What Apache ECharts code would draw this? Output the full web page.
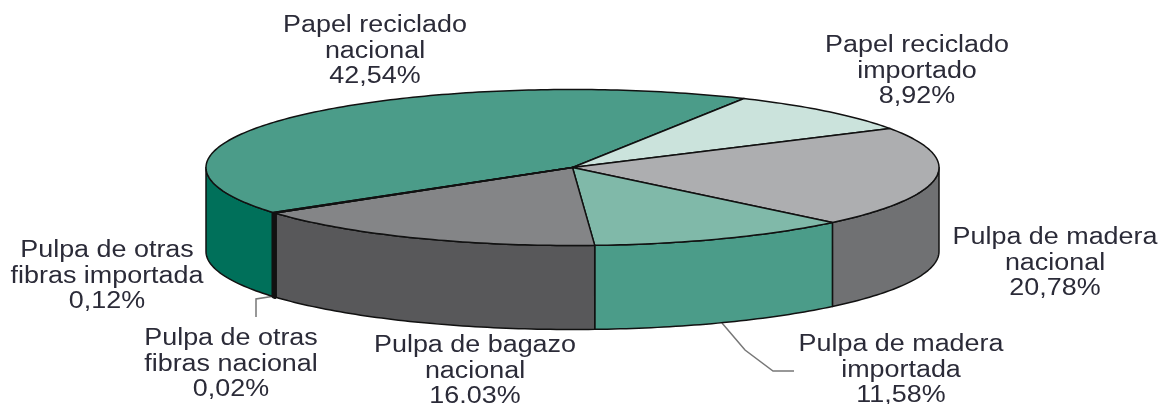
<!DOCTYPE html>
<html><head><meta charset="utf-8">
<style>html,body{margin:0;padding:0;background:#fff}#c{width:1161px;height:404px}</style>
<script src="https://cdn.jsdelivr.net/npm/echarts@6/dist/echarts.min.js"></script>
</head><body><div id="c"></div>
<script>
const names = [
  ['Papel reciclado', 'nacional'],
  ['Papel reciclado', 'importado'],
  ['Pulpa de madera', 'nacional'],
  ['Pulpa de madera', 'importada'],
  ['Pulpa de bagazo', 'nacional'],
  ['Pulpa de otras', 'fibras nacional'],
  ['Pulpa de otras', 'fibras importada']
];
const values = [42.54, 8.92, 20.78, 11.58, 16.03, 0.02, 0.12];
const valueLabels = ['42,54%', '8,92%', '20,78%', '11,58%', '16.03%', '0,02%', '0,12%'];
const topColors = ['#4b9c89', '#cbe3dc', '#adaeb0', '#80b9a9', '#848587', '#000000', '#000000'];
const sideColors = ['#00705a', '#cbe3dc', '#707173', '#4b9c89', '#58585a', '#000000', '#000000'];
const labelAnchors = [[375, 25], [917, 45], [1055, 237], [901, 344], [475, 345], [231, 338], [107, 250]];

const endOfFirstAngle = 27.9, CX = 572.5, CY = 167.5, RX = 366.5, RY = 78, DEPTH = 84;
const total = values.reduce((a, b) => a + b, 0);
// the first slice ends at endOfFirstAngle; all others follow it clockwise
const starts = []; let run = endOfFirstAngle - values[0] / total * 360 + 360;
values.forEach(v => { starts.push(run >= 360 ? run - 360 : run); run += v / total * 360; });

function pt(deg, dy) {
  const r = deg * Math.PI / 180;
  return [CX + RX * Math.sin(r), CY - RY * Math.cos(r) + (dy || 0)];
}
function arc(a, b, dy) {
  const out = [];
  const n = Math.max(1, Math.ceil(Math.abs(b - a)));
  for (let i = 0; i <= n; i++) out.push(pt(a + (b - a) * i / n, dy));
  return out;
}

function renderItem(params, api) {
  const i = params.dataIndex;
  const a = starts[i], b = a + api.value(0) / total * 360;
  // the tiniest slices read as a thick black line in the reference
  const stroke = { stroke: '#111', lineWidth: b - a < 1 ? 3.5 : 1.5, lineJoin: 'round' };
  const children = [];
  // visible wall: front half of the ellipse only (90..270 degrees clockwise from the top)
  const lo = Math.max(a, 90), hi = Math.min(b, 270);
  if (hi > lo) {
    children.push({
      type: 'polygon', z2: 1,
      shape: { points: arc(lo, hi, 0).concat(arc(hi, lo, DEPTH)) },
      style: Object.assign({ fill: sideColors[i] }, stroke)
    });
  }
  children.push({
    type: 'polygon', z2: 2,
    shape: { points: [[CX, CY]].concat(arc(a, b, 0)) },
    style: Object.assign({ fill: topColors[i] }, { stroke: '#111', lineWidth: 1.5, lineJoin: 'round' })
  });
  return { type: 'group', children };
}

const labels = names.map((n, i) => ({
  type: 'text', x: labelAnchors[i][0], y: labelAnchors[i][1] - 12, scaleX: 1.17, z: 10,
  style: {
    text: n.concat(valueLabels[i]).join('\n'),
    fontFamily: 'Liberation Sans', fontSize: 23, lineHeight: 25.5,
    align: 'center', verticalAlign: 'top', fill: '#2b2b38'
  }
}));
const leaders = [
  [[722, 323], [745, 350], [773, 371], [794, 371]],
  [[275, 296], [256, 299], [256, 317]]
].map(p => ({ type: 'polyline', z: 1, shape: { points: p }, style: { stroke: '#777', lineWidth: 1.5, fill: null } }));

const chart = echarts.init(document.getElementById('c'), null, { renderer: 'canvas' });
chart.setOption({
  animation: false,
  backgroundColor: '#fff',
  series: [{ type: 'custom', coordinateSystem: 'none', renderItem, data: values.map(v => [v]), silent: true, z: 5 }],
  graphic: { elements: leaders.concat(labels) }
});
</script></body></html>
